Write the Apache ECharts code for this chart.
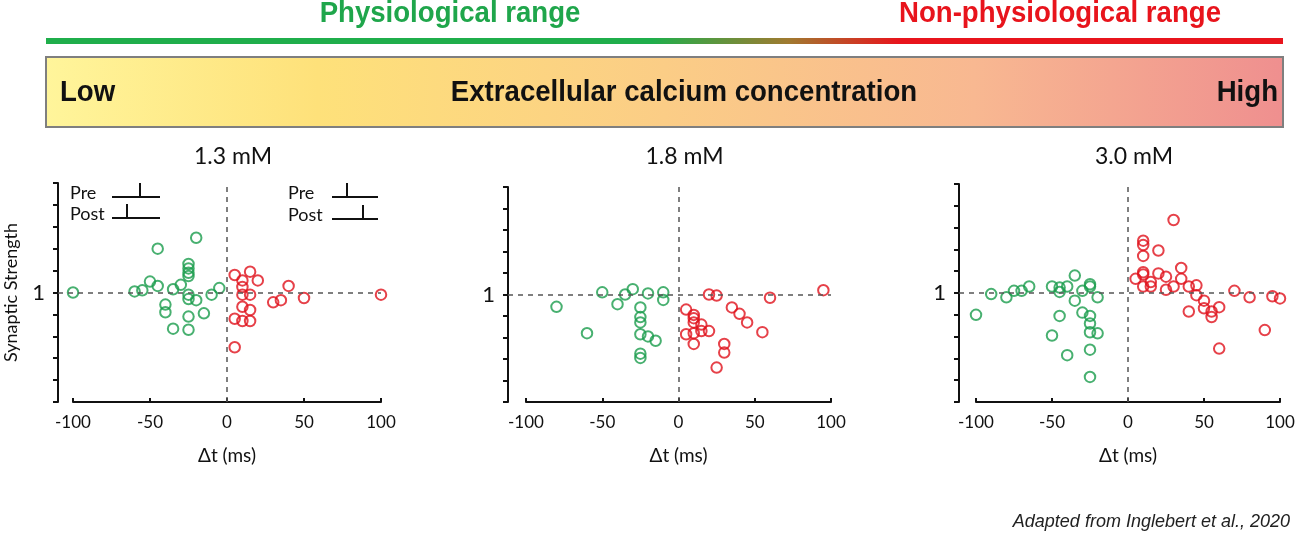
<!DOCTYPE html>
<html>
<head>
<meta charset="utf-8">
<script src="https://cdn.jsdelivr.net/npm/echarts@6/dist/echarts.min.js"></script>
<style>
  html, body { margin: 0; padding: 0; background: #fff; }
  #chart { width: 1300px; height: 540px; }
</style>
</head>
<body>
<div id="chart"></div>
<script>
// panel titles and tick values
const panelTitles = ["1.3 mM", "1.8 mM", "3.0 mM"];
const xTicks = [-100, -50, 0, 50, 100];
const yRange = [0, 2];
const yLabelValue = 1;

// [delta t (ms), synaptic strength]
const green13 = [
  [-100, 1.0], [-60, 1.01], [-55, 1.02], [-50, 1.1], [-45, 1.06], [-45, 1.4],
  [-35, 1.03], [-40, 0.89], [-40, 0.82], [-35, 0.67], [-30, 1.07], [-25, 1.26],
  [-25, 1.22], [-25, 1.18], [-25, 1.15], [-25, 0.98], [-25, 0.94], [-25, 0.78],
  [-25, 0.66], [-20, 1.5], [-20, 0.93], [-15, 0.81], [-10, 0.98], [-5, 1.04],
];
const red13 = [
  [5, 1.16], [5, 0.76], [5, 0.5], [10, 1.11], [10, 1.05], [10, 0.98], [10, 0.87],
  [10, 0.74], [15, 1.19], [15, 0.98], [15, 0.84], [15, 0.74], [20, 1.11],
  [30, 0.91], [35, 0.93], [40, 1.06], [50, 0.95], [100, 0.98],
];
const green18 = [
  [-80, 0.885], [-60, 0.64], [-50, 1.02], [-40, 0.91], [-35, 1.0], [-30, 1.05],
  [-25, 0.88], [-25, 0.79], [-25, 0.74], [-25, 0.63], [-25, 0.45], [-25, 0.41],
  [-20, 1.01], [-20, 0.61], [-15, 0.57], [-10, 1.02], [-10, 0.95],
];
const red18 = [
  [5, 0.86], [5, 0.63], [10, 0.81], [10, 0.78], [10, 0.74], [10, 0.64], [10, 0.54],
  [15, 0.72], [15, 0.66], [20, 0.66], [20, 1.0], [25, 0.99], [25, 0.32],
  [30, 0.54], [30, 0.46], [35, 0.88], [40, 0.82], [45, 0.74], [55, 0.65],
  [60, 0.97], [95, 1.04],
];
const green30 = [
  [-100, 0.8], [-90, 0.99], [-80, 0.96], [-75, 1.02], [-70, 1.02], [-65, 1.06],
  [-50, 1.06], [-50, 0.61], [-45, 1.05], [-45, 1.01], [-45, 0.79], [-40, 1.06],
  [-40, 0.43], [-35, 1.16], [-35, 0.93], [-30, 1.02], [-30, 0.82], [-25, 1.08],
  [-25, 1.06], [-25, 0.79], [-25, 0.72], [-25, 0.64], [-25, 0.48], [-25, 0.23],
  [-20, 0.96], [-20, 0.63],
];
const red30 = [
  [5, 1.13], [10, 1.48], [10, 1.44], [10, 1.34], [10, 1.19], [10, 1.17], [10, 1.06],
  [15, 1.1], [15, 1.06], [20, 1.39], [20, 1.18], [25, 1.15], [25, 1.03],
  [30, 1.67], [30, 1.06], [35, 1.23], [35, 1.13], [40, 1.06], [40, 0.83],
  [45, 1.07], [45, 0.98], [50, 0.93], [50, 0.86], [55, 0.83], [55, 0.78],
  [60, 0.87], [60, 0.49], [70, 1.02], [80, 0.96], [90, 0.66], [95, 0.97], [100, 0.95],
];

const greenData = [green13, green18, green30];
const redData = [red13, red18, red30];

const GREEN = "#1a9c4c";
const RED = "#e0121c";
const FONT = "Lato, 'DejaVu Sans', sans-serif";

const panels = [
  { left: 73, top: 183, width: 308, height: 219, offset: 15 },
  { left: 526, top: 187, width: 305, height: 215, offset: 18 },
  { left: 976, top: 184, width: 304, height: 218, offset: 17 },
];

const chart = echarts.init(document.getElementById("chart"), null, { renderer: "canvas" });

function bannerGraphics() {
  const bold = "bold 30px 'Liberation Sans', Arial, sans-serif";
  const sx = 0.92;
  const items = [
    {
      type: "rect",
      shape: { x: 46, y: 38, width: 1237, height: 6 },
      style: {
        fill: new echarts.graphic.LinearGradient(0, 0, 1, 0, [
          { offset: 0, color: "#1fae4b" },
          { offset: 0.49, color: "#1fae4b" },
          { offset: 0.6, color: "#a07a30" },
          { offset: 0.69, color: "#e8141c" },
          { offset: 1, color: "#e8141c" },
        ]),
      },
    },
    {
      type: "rect",
      shape: { x: 46, y: 57, width: 1237, height: 70 },
      style: {
        stroke: "#7f7f7f",
        lineWidth: 2,
        fill: new echarts.graphic.LinearGradient(0, 0, 1, 0, [
          { offset: 0, color: "#fff59b" },
          { offset: 0.22, color: "#fee17a" },
          { offset: 0.5, color: "#fbcd86" },
          { offset: 0.75, color: "#f8b891" },
          { offset: 1, color: "#ef8f8f" },
        ]),
      },
    },
    { type: "text", x: 450, y: 14, scaleX: sx, style: { text: "Physiological range", fill: "#1fa64b", font: bold, align: "center", verticalAlign: "middle" } },
    { type: "text", x: 1060, y: 14, scaleX: sx, style: { text: "Non-physiological range", fill: "#e8141c", font: bold, align: "center", verticalAlign: "middle" } },
    { type: "text", x: 60, y: 93, scaleX: sx, style: { text: "Low", fill: "#111", font: bold, align: "left", verticalAlign: "middle" } },
    { type: "text", x: 684, y: 93, scaleX: sx, style: { text: "Extracellular calcium concentration", fill: "#111", font: bold, align: "center", verticalAlign: "middle" } },
    { type: "text", x: 1278, y: 93, scaleX: sx, style: { text: "High", fill: "#111", font: bold, align: "right", verticalAlign: "middle" } },
    { type: "text", x: 1290, y: 522, style: { text: "Adapted from Inglebert et al., 2020", fill: "#222", font: "italic 18px 'Liberation Sans', Arial, sans-serif", align: "right", verticalAlign: "middle" } },
  ];
  panelTitles.forEach((t, i) => {
    const p = panels[i];
    items.push({
      type: "text", x: p.left + p.width / 2 + 6, y: 157,
      style: { text: t, fill: "#111", font: "23px " + FONT, align: "center", verticalAlign: "middle" },
    });
  });
  // Pre / Post spike timing insets in the first panel
  const inset = (tx, y1, y2, x0, x1, preX, postX) => {
    const s = { stroke: "#111", lineWidth: 2 };
    items.push(
      { type: "text", x: tx, y: y1 - 4, style: { text: "Pre", fill: "#111", font: "18px " + FONT, align: "left", verticalAlign: "middle" } },
      { type: "text", x: tx, y: y2 - 4, style: { text: "Post", fill: "#111", font: "18px " + FONT, align: "left", verticalAlign: "middle" } },
      { type: "line", shape: { x1: x0, y1: y1, x2: x1, y2: y1 }, style: s },
      { type: "line", shape: { x1: preX, y1: y1, x2: preX, y2: y1 - 14 }, style: s },
      { type: "line", shape: { x1: x0, y1: y2, x2: x1, y2: y2 }, style: s },
      { type: "line", shape: { x1: postX, y1: y2, x2: postX, y2: y2 - 14 }, style: s }
    );
  };
  inset(70, 197, 218, 112, 160, 140, 127);
  inset(288, 197, 219, 332, 378, 347, 363);
  return items;
}

const option = {
  animation: false,
  backgroundColor: "#fff",
  textStyle: { fontFamily: FONT },
  grid: panels.map((p) => ({ left: p.left, top: p.top, width: p.width, height: p.height })),
  xAxis: panels.map((p, i) => ({
    type: "value",
    gridIndex: i,
    min: xTicks[0],
    max: xTicks[xTicks.length - 1],
    interval: xTicks[1] - xTicks[0],
    name: "Δt (ms)",
    nameLocation: "middle",
    nameGap: 44,
    nameTextStyle: { fontSize: 19, color: "#111", fontFamily: FONT },
    axisLine: { onZero: false, lineStyle: { color: "#111", width: 2 } },
    axisTick: { inside: true, length: 4, lineStyle: { color: "#111", width: 2 } },
    axisLabel: { fontSize: 17, color: "#111", margin: 12, fontFamily: FONT },
    splitLine: { show: false },
  })),
  yAxis: panels.map((p, i) => ({
    type: "value",
    gridIndex: i,
    min: yRange[0],
    max: yRange[1],
    interval: 0.2,
    offset: p.offset,
    name: i === 0 ? "Synaptic Strength" : "",
    nameLocation: "middle",
    nameGap: 38,
    nameTextStyle: { fontSize: 18, color: "#111", fontFamily: FONT },
    axisLine: { show: true, onZero: false, lineStyle: { color: "#111", width: 2 } },
    axisTick: { show: true, length: 5, lineStyle: { color: "#111", width: 2 } },
    axisLabel: {
      fontSize: 22, color: "#111", margin: 13, fontFamily: FONT,
      formatter: (v) => (Math.abs(v - yLabelValue) < 1e-6 ? String(yLabelValue) : ""),
    },
    splitLine: { show: false },
  })),
  series: [],
  graphic: { elements: bannerGraphics() },
};

panels.forEach((p, i) => {
  option.series.push(
    {
      type: "scatter", xAxisIndex: i, yAxisIndex: i, clip: false, z: 3,
      data: greenData[i], symbol: "circle", symbolSize: 10.5,
      itemStyle: { color: "rgba(0,0,0,0)", borderColor: GREEN, borderWidth: 2 },
    },
    {
      type: "scatter", xAxisIndex: i, yAxisIndex: i, clip: false, z: 3,
      data: redData[i], symbol: "circle", symbolSize: 10.5,
      itemStyle: { color: "rgba(0,0,0,0)", borderColor: RED, borderWidth: 2 },
    }
  );
});

chart.setOption(option);

// dashed reference lines: y = 1 from the y axis to the right end, x = 0 full height
const dashStyle = { color: "#555", width: 1.5, type: [5, 5] };
const markSeries = panels.map((p, i) => {
  const yPx = chart.convertToPixel({ gridIndex: i }, [0, yLabelValue])[1];
  const rightPx = chart.convertToPixel({ gridIndex: i }, [xTicks[xTicks.length - 1], yLabelValue])[0];
  return {
    type: "line", xAxisIndex: i, yAxisIndex: i, data: [], silent: true,
    markLine: {
      silent: true, symbol: ["none", "none"], label: { show: false },
      lineStyle: dashStyle, animation: false,
      data: [
        [{ x: p.left - p.offset, y: yPx }, { x: rightPx, y: yPx }],
        { xAxis: 0 },
      ],
    },
  };
});
chart.setOption({ series: option.series.concat(markSeries) });
</script>
</body>
</html>
